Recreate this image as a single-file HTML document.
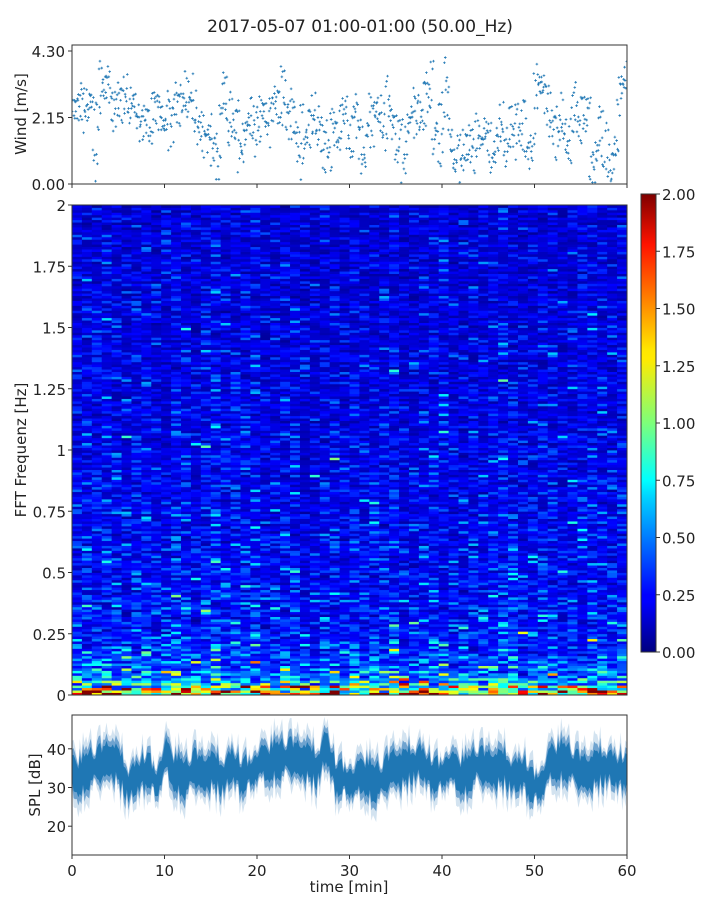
<!DOCTYPE html>
<html><head><meta charset="utf-8"><style>
html,body{margin:0;padding:0;background:#fff;}
svg text{font-family:"DejaVu Sans","Liberation Sans",sans-serif;fill:#222;}
</style></head><body>
<svg id="fig" width="720" height="900" viewBox="0 0 720 900" xmlns="http://www.w3.org/2000/svg">
<defs>
<linearGradient id="jet" x1="0" y1="1" x2="0" y2="0">
<stop offset="0" stop-color="#00007f"/><stop offset="0.11" stop-color="#0000ff"/><stop offset="0.125" stop-color="#0000ff"/>
<stop offset="0.34" stop-color="#00d4ff"/><stop offset="0.375" stop-color="#00ffff"/><stop offset="0.5" stop-color="#7dff7a"/>
<stop offset="0.64" stop-color="#ffea00"/><stop offset="0.66" stop-color="#ffe600"/><stop offset="0.89" stop-color="#ff1300"/><stop offset="1" stop-color="#7f0000"/>
</linearGradient>
<clipPath id="clipTop"><rect x="72" y="45" width="555" height="139"/></clipPath>
<clipPath id="clipBot"><rect x="72" y="715" width="555" height="140"/></clipPath>
</defs>
<text x="360" y="32" font-size="17" text-anchor="middle">2017-05-07 01:00-01:00 (50.00_Hz)</text>
<g id="wind"></g>
<g id="heat"></g>
<g id="cbar"></g>
<g id="spl"></g>
</svg>
<script>
// ---------- data ----------
const windValues = [
2.6,2.4,2.7, 2.5,2.3,2.6, 2.6,0.4,2.4, 3.3,2.9,3.1, 2.6,2.3,2.8, 2.7,2.4,2.9, 2.5,3.0,2.6, 2.0,1.6,2.3, 2.1,1.5,2.4, 2.6,2.2,2.0,
1.4,2.5,1.8, 2.8,2.5,2.3, 3.0,2.7,3.2, 2.4,1.9,1.6, 2.1,1.3,1.7, 0.9,1.4,0.6, 2.4,2.9,1.9, 2.3,1.6,2.0, 0.8,1.3,1.8, 2.4,1.9,1.5,
1.9,2.6,2.3, 1.8,2.2,2.7, 2.7,2.1,3.1, 2.4,1.9,2.6, 1.3,0.7,1.9, 1.2,2.0,1.6, 2.3,1.8,2.4, 0.8,1.5,0.6, 2.2,1.7,1.3, 2.0,2.6,1.6,
1.0,1.8,2.4, 1.4,0.7,1.2, 2.3,1.8,2.7, 2.5,2.0,1.7, 2.9,2.3,1.9, 0.9,1.5,0.6, 1.4,2.1,1.8, 2.6,2.2,1.9, 2.9,2.3,3.3, 1.5,2.2,1.0,
2.4,3.5,2.0, 0.8,0.6,1.0, 0.7,1.3,0.9, 1.2,1.0,1.6, 1.4,1.1,1.5, 1.3,0.9,1.2, 1.5,2.0,1.1, 1.7,2.2,1.4, 2.0,1.5,2.4, 1.0,0.8,1.4,
2.9,3.4,2.6, 3.0,2.5,1.9, 1.8,1.2,2.3, 2.0,1.5,1.1, 2.3,2.7,1.8, 2.5,1.9,2.2, 0.8,0.5,1.2, 1.8,0.4,1.3, 0.3,0.6,0.9, 2.8,3.3,3.6
];
const splMean = [34,33,35,36,37,35,31,33,35,31,38,34,32,35,33,34,33,36,33,34,36,37,37,38,37,36,35,41,33,32,31,34,31,32,35,34,36,37,34,33,35,34,33,36,35,34,35,33,34,30,31,37,37,36,34,33,35,36,34,35];
const splJitter = [0.8,-1.2,1.5,-0.4,2.1,-1.8,0.6,1.1,-2.2,0.3,1.9,-0.9,-1.5,2.4,0.2,-0.6,1.3,-2.0,0.9,-0.3,1.7,-1.1,0.4,2.2,-1.6,0.7,-0.2,1.4,-2.3,1.0,-0.8,0.5,2.0,-1.4,0.1,1.6,-0.7,-1.9,1.2,0.3,-1.0,2.3,-0.5,0.9,-1.7,1.8,-0.1,0.6,-1.3,2.5,-0.4,1.1,-2.1,0.2,1.5,-0.9,0.8,-1.6,2.0,-0.2,1.3];
const rowLevel = [1.85,1.45,0.95,0.8,0.7,0.62,0.58,0.55,0.5,0.48,0.46,0.45,0.44,0.42,0.42,0.41,0.4,0.4,0.39,0.4,
0.38,0.38,0.37,0.37,0.36,0.38,0.37,0.36,0.35,0.36,0.35,0.35,0.34,0.35,0.34,0.33,0.35,0.34,0.33,0.33,
0.33,0.32,0.33,0.34,0.32,0.31,0.32,0.31,0.33,0.31,0.31,0.3,0.31,0.32,0.3,0.3,0.29,0.31,0.3,0.29,
0.3,0.29,0.3,0.29,0.28,0.3,0.29,0.28,0.29,0.28,0.28,0.29,0.27,0.28,0.28,0.27,0.29,0.27,0.27,0.28,
0.27,0.26,0.27,0.28,0.26,0.27,0.26,0.26,0.27,0.25,0.26,0.26,0.25,0.27,0.25,0.26,0.25,0.25,0.26,0.25];
const colLevel = [1.0,1.05,0.95,1.1,1.0,0.9,1.05,1.1,0.95,1.0,1.15,1.05,0.9,1.1,1.2,1.0,0.95,1.05,1.1,0.9,0.95,1.0,1.05,0.9,0.85,0.95,1.0,0.9,1.05,0.95,0.9,1.0,1.1,0.85,0.9,1.0,1.05,1.1,0.95,0.9,1.0,0.95,1.05,1.1,1.0,0.9,0.95,1.05,1.0,0.9,0.95,1.05,1.1,1.0,0.95,1.05];
const texture = [1.0,0.55,1.2,0.7,0.9,1.5,0.6,1.05,0.45,1.15,0.8,1.3,0.5,0.95,0.75,1.8,0.65,1.1,0.85,0.4,1.2,0.9,0.6,1.35,0.7,1.0,0.5,1.1,0.85,1.6,0.55,0.8,1.2,0.65,0.95,0.45,1.25,0.75,1.05,0.6,0.85,0.7,1.0,0.5,0.9,1.1,0.65,0.8,1.4,0.6,0.75,0.95,0.55,1.0,0.7];
const timeTicks = [0,10,20,30,40,50,60];
const windTicks = [0,2.15,4.30];
const freqTicks = [0,0.25,0.5,0.75,1,1.25,1.5,1.75,2];
const freqTickLabels = ["0","0.25","0.5","0.75","1","1.25","1.5","1.75","2"];
const splTicks = [20,30,40];
const cbarTicks = [0,0.25,0.5,0.75,1,1.25,1.5,1.75,2];

// ---------- axes ----------
const NS="http://www.w3.org/2000/svg";
const X0=72,X1=627;
const xT = t => X0 + (t/60)*(X1-X0);
const yWind = v => 184 - v*(133/4.30);
const yFreq = f => 695 - f/2*490;
const ySpl = d => 787.5 - (d-30)*3.87;
const yCb = v => 652 - v/2*458;
function mk(tag, attrs, parent){const e=document.createElementNS(NS,tag);for(const k in attrs)e.setAttribute(k,attrs[k]);parent.appendChild(e);return e;}
function jet(v){v=Math.max(0,Math.min(1,v));
 const r=Math.max(0,Math.min(1,1.5-Math.abs(4*v-3))),g=Math.max(0,Math.min(1,1.5-Math.abs(4*v-2))),b=Math.max(0,Math.min(1,1.5-Math.abs(4*v-1)));
 return `rgb(${Math.round(r*255)},${Math.round(g*255)},${Math.round(b*255)})`;}

// ---------- wind panel ----------
const gw=document.getElementById('wind');
const pts=mk('g',{'clip-path':'url(#clipTop)'},gw);


windValues.forEach((v,i)=>{
 const t=(i+0.5)*60/windValues.length, x=xT(t);
 for(let k=0;k<6;k++){
  const dx=(k-2.5)*0.9;
  const dv=splJitter[(i*7+k*11)%splJitter.length]*0.28;
  const y=yWind(v+dv);
  const p=mk('path',{d:`M${x+dx-1.3},${y}h2.6M${x+dx},${y-1.3}v2.6`,stroke:'#1f77b4','stroke-width':'0.8'},pts);
  
  
 }
});
const fw=mk('rect',{x:72,y:45,width:555,height:139,fill:'none',stroke:'#333','stroke-width':1},gw);


windTicks.forEach(v=>{const y=yWind(v);mk('line',{x1:68,x2:72,y1:y,y2:y,stroke:'#333'},gw);
 const t=mk('text',{x:65,y:y+6,'font-size':15,'text-anchor':'end'},gw);t.textContent=v.toFixed(2);
 });
timeTicks.forEach(t=>{const x=xT(t);mk('line',{x1:x,x2:x,y1:184,y2:188,stroke:'#333'},gw);});
const wl=mk('text',{x:26,y:114,'font-size':15,'text-anchor':'middle',transform:'rotate(-90 26 114)'},gw);wl.textContent='Wind [m/s]';


// ---------- spectrogram ----------
const gh=document.getElementById('heat');
const nC=colLevel.length,nR=rowLevel.length*2;
const cw=(X1-X0)/nC;
for(let c=0;c<nC;c++){for(let r=0;r<nR;r++){
 const tx=texture[(r*13+c*5+((r*c)%7)*3)%texture.length]*texture[(r*3+c*17)%texture.length];
 const v=rowLevel[Math.floor(r/2)]*colLevel[c]*tx*0.95;
 const y0=yFreq((r+1)*2/nR), y1=yFreq(r*2/nR);
 const rc=mk('rect',{x:(X0+c*cw).toFixed(2),y:y0.toFixed(2),width:(cw+0.4).toFixed(2),height:(y1-y0+0.4).toFixed(2),fill:jet(v/2)},gh);
 
 
}}
const fh=mk('rect',{x:72,y:205,width:555,height:490,fill:'none',stroke:'#333','stroke-width':1},gh);

freqTicks.forEach((f,i)=>{const y=yFreq(f);mk('line',{x1:68,x2:72,y1:y,y2:y,stroke:'#333'},gh);
 const t=mk('text',{x:66,y:y+6,'font-size':15,'text-anchor':'end'},gh);t.textContent=freqTickLabels[i];
 });
const fl=mk('text',{x:26,y:450,'font-size':15,'text-anchor':'middle',transform:'rotate(-90 26 450)'},gh);fl.textContent='FFT Frequenz [Hz]';


// ---------- colorbar ----------
const gc=document.getElementById('cbar');
const cbr=mk('rect',{x:641,y:194,width:15,height:458,fill:'url(#jet)',stroke:'#333','stroke-width':1},gc);

cbarTicks.forEach(v=>{const y=yCb(v);mk('line',{x1:656,x2:660,y1:y,y2:y,stroke:'#333'},gc);
 const t=mk('text',{x:662,y:y+6,'font-size':15},gc);t.textContent=v.toFixed(2);
 });

// ---------- SPL ----------
const gs=document.getElementById('spl');
const cg=mk('g',{'clip-path':'url(#clipBot)'},gs);
const SUB=6;
function band(off,scale){
 const up=[],lo=[];
 const n=splMean.length;
 for(let i=0;i<n-1;i++){for(let s=0;s<SUB;s++){
  const f=s/SUB, m=splMean[i]*(1-f)+splMean[i+1]*f;
  const k=i*SUB+s;
  const j=splJitter[(k*7)%splJitter.length],j2=splJitter[(k*11+5)%splJitter.length];
  const x=xT((i+f)*60/(n-1)).toFixed(1);
  up.push(`${x},${ySpl(m+off+j*scale).toFixed(1)}`);
  lo.push(`${x},${ySpl(m-off-j2*scale).toFixed(1)}`);
 }}
 const xe=xT(60).toFixed(1),me=splMean[n-1];
 up.push(`${xe},${ySpl(me+off).toFixed(1)}`);lo.push(`${xe},${ySpl(me-off).toFixed(1)}`);
 return up.join(' ')+' '+lo.reverse().join(' ');
}
const outer=mk('polygon',{points:band(6.5,1.8),fill:'#d3e3f0'},cg);

const mid=mk('polygon',{points:band(5,1.2),fill:'#6fa3cf'},cg);

const core=mk('polygon',{points:band(3.6,0.9),fill:'#1f77b4'},cg);

const fs=mk('rect',{x:72,y:715,width:555,height:140,fill:'none',stroke:'#333','stroke-width':1},gs);

splTicks.forEach(v=>{const y=ySpl(v);mk('line',{x1:68,x2:72,y1:y,y2:y,stroke:'#333'},gs);
 const t=mk('text',{x:66,y:y+6,'font-size':15,'text-anchor':'end'},gs);t.textContent=v;
 });
timeTicks.forEach(t=>{const x=xT(t);mk('line',{x1:x,x2:x,y1:855,y2:859,stroke:'#333'},gs);
 const tx=mk('text',{x:x,y:876,'font-size':15,'text-anchor':'middle'},gs);tx.textContent=t;
 });
const sl=mk('text',{x:40,y:785,'font-size':15,'text-anchor':'middle',transform:'rotate(-90 40 785)'},gs);sl.textContent='SPL [dB]';

const xl=mk('text',{x:349,y:892,'font-size':15,'text-anchor':'middle'},gs);xl.textContent='time [min]';

</script>
</body></html>
